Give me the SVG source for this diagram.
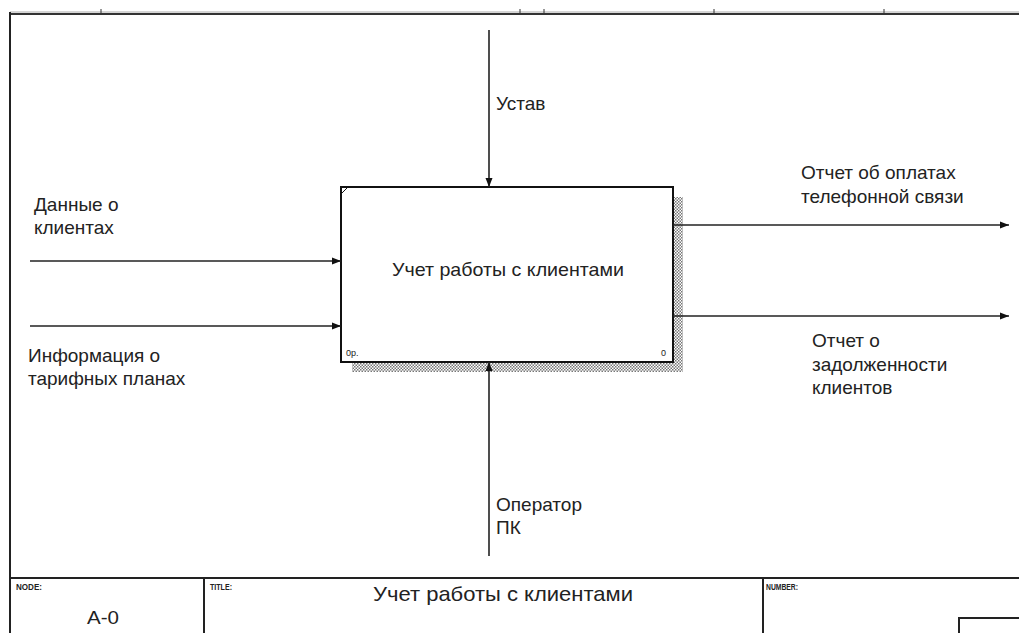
<svg xmlns="http://www.w3.org/2000/svg" width="1019" height="633" viewBox="0 0 1019 633">
<style>
.frame{stroke:#222;stroke-width:2;fill:none}
.arr{stroke:#222;stroke-width:1.6;fill:none}
.lbl{font-family:"Liberation Sans",Arial,sans-serif;font-size:19px;fill:#222}
.tiny{font-family:"Liberation Sans",Arial,sans-serif;font-size:9px;fill:#222;font-weight:bold}
.num{font-family:"Liberation Sans",Arial,sans-serif;font-size:9px;fill:#222}
</style>
<defs>
<pattern id="chk" width="3" height="3" patternUnits="userSpaceOnUse">
<rect width="3" height="3" fill="#fff"/>
<rect width="1.5" height="1.5" fill="#777"/>
<rect x="1.5" y="1.5" width="1.5" height="1.5" fill="#777"/>
</pattern>
<marker id="ah" markerWidth="10" markerHeight="8" refX="9" refY="4" orient="auto" markerUnits="userSpaceOnUse">
<path d="M0,0.5 L9,4 L0,7.5 Z" fill="#111"/>
</marker>
</defs>
<rect width="1019" height="633" fill="#fff"/>
<g id="frame">
<line x1="10" y1="12" x2="1019" y2="12" stroke="#aaa" stroke-width="1"/>
<line x1="10" y1="14" x2="1019" y2="14" stroke="#333" stroke-width="2"/>
<line x1="101" y1="9" x2="101" y2="13" stroke="#333" stroke-width="1"/>
<line x1="520" y1="9" x2="520" y2="13" stroke="#333" stroke-width="1"/>
<line x1="544" y1="9" x2="544" y2="13" stroke="#333" stroke-width="1"/>
<line x1="714" y1="9" x2="714" y2="13" stroke="#333" stroke-width="1"/>
<line x1="884" y1="9" x2="884" y2="13" stroke="#333" stroke-width="1"/>
<line x1="10" y1="12" x2="10" y2="633" class="frame"/>
<line x1="10" y1="578" x2="1019" y2="578" class="frame"/>
<line x1="204" y1="578" x2="204" y2="633" class="frame"/>
<line x1="763" y1="578" x2="763" y2="633" class="frame"/>
<path d="M1019,618 H959 V633" class="frame"/>
<text x="16" y="590" class="tiny" textLength="26" lengthAdjust="spacingAndGlyphs">NODE:</text>
<text x="210" y="590" class="tiny" textLength="22" lengthAdjust="spacingAndGlyphs">TITLE:</text>
<text x="766" y="590" class="tiny" textLength="32" lengthAdjust="spacingAndGlyphs">NUMBER:</text>
<text x="103" y="624" class="lbl" text-anchor="middle" textLength="32" lengthAdjust="spacingAndGlyphs">A-0</text>
<text x="373" y="601" class="lbl" style="font-size:21px" textLength="260" lengthAdjust="spacingAndGlyphs">Учет работы с клиентами</text>
</g>
<g id="node-A0">
<rect x="673" y="197" width="10" height="175" fill="url(#chk)"/>
<rect x="352" y="362" width="331" height="10" fill="url(#chk)"/>
<rect x="341" y="187" width="332" height="175" fill="#fff" stroke="#111" stroke-width="2"/>
<line x1="341" y1="194" x2="348" y2="187" stroke="#111" stroke-width="1"/>
<text x="508" y="276" class="lbl" text-anchor="middle" textLength="232" lengthAdjust="spacingAndGlyphs">Учет работы с клиентами</text>
<text x="346" y="356" class="num">0р.</text>
<text x="661" y="356" class="num">0</text>
</g>
<g id="connectors">
<line x1="30" y1="261" x2="341" y2="261" class="arr" marker-end="url(#ah)"/>
<line x1="30" y1="326" x2="341" y2="326" class="arr" marker-end="url(#ah)"/>
<line x1="489" y1="30" x2="489" y2="187" class="arr" marker-end="url(#ah)"/>
<line x1="489" y1="556" x2="489" y2="362" class="arr" marker-end="url(#ah)"/>
<line x1="673" y1="225" x2="1009" y2="225" class="arr" marker-end="url(#ah)"/>
<line x1="673" y1="316" x2="1009" y2="316" class="arr" marker-end="url(#ah)"/>
</g>
<g id="labels">
<text x="34" y="211" class="lbl">Данные о</text>
<text x="34" y="234" class="lbl">клиентах</text>
<text x="28" y="362" class="lbl">Информация о</text>
<text x="28" y="385" class="lbl">тарифных планах</text>
<text x="496" y="110" class="lbl">Устав</text>
<text x="496" y="511" class="lbl">Оператор</text>
<text x="496" y="534" class="lbl">ПК</text>
<text x="801" y="179" class="lbl">Отчет об оплатах</text>
<text x="801" y="203" class="lbl">телефонной связи</text>
<text x="812" y="347" class="lbl">Отчет о</text>
<text x="812" y="371" class="lbl">задолженности</text>
<text x="812" y="394" class="lbl">клиентов</text>
</g>
</svg>
